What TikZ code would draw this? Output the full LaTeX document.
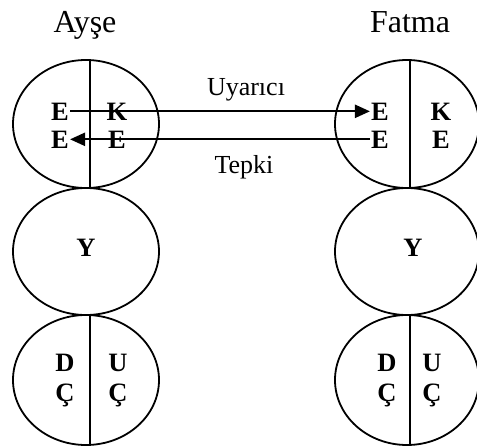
\documentclass[tikz,border=0pt]{standalone}
\usepackage{fontspec}
\setmainfont{Liberation Serif}
\usetikzlibrary{shapes.geometric,arrows.meta}
\begin{document}
\begin{tikzpicture}[x=1pt,y=-1pt,
  oval/.style={draw,ellipse,line width=1.8pt,inner sep=0pt},
  divider/.style={line width=1.8pt},
  person/.style={font=\fontsize{32}{34}\selectfont,anchor=base},
  msg/.style={font=\fontsize{26}{28}\selectfont,anchor=base},
  letr/.style={font=\bfseries\fontsize{26.5}{28}\selectfont,anchor=base,inner sep=1pt},
  link/.style={line width=2.3pt,-{Triangle[length=15pt,width=13pt]}}]
\useasboundingbox[fill=white] (0,0) rectangle (477,447);
% ellipses
\node[oval,minimum width=146pt,minimum height=128pt] (AT) at (86,124) {};
\node[oval,minimum width=146pt,minimum height=127pt] (AM) at (86,251.5) {};
\node[oval,minimum width=146pt,minimum height=130pt] (AB) at (86,380) {};
\node[oval,minimum width=144pt,minimum height=128pt] (FT) at (407,124) {};
\node[oval,minimum width=144pt,minimum height=127pt] (FM) at (407,251.5) {};
\node[oval,minimum width=144pt,minimum height=130pt] (FB) at (407,380) {};
% dividers
\draw[divider] ([xshift=4pt]AT.north) -- ([xshift=4pt]AT.south);
\draw[divider] ([xshift=4pt]AB.north) -- ([xshift=4pt]AB.south);
\draw[divider] ([xshift=3pt]FT.north) -- ([xshift=3pt]FT.south);
\draw[divider] ([xshift=3pt]FB.north) -- ([xshift=3pt]FB.south);
% names
\node[person] (ayse) at (85,32) {Ayşe};
\node[person] (fatma) at (410,32) {Fatma};
% letters
\node[letr] (aE1) at (60,120) {E};
\node[letr] (aK) at (117,120) {K};
\node[letr] (aE2) at (60,148) {E};
\node[letr] (aE3) at (117,148) {E};
\node[letr] (fE1) at (380,120) {E};
\node[letr] (fK) at (441,120) {K};
\node[letr] (fE2) at (380,148) {E};
\node[letr] (fE3) at (441,148) {E};
\node[letr] (aY) at (86,256) {Y};
\node[letr] (fY) at (413,256) {Y};
\node[letr] (aD) at (65,371) {D};
\node[letr] (aC1) at (65,401) {Ç};
\node[letr] (aU) at (118,371) {U};
\node[letr] (aC2) at (118,401) {Ç};
\node[letr] (fD) at (387,371) {D};
\node[letr] (fC1) at (387,401) {Ç};
\node[letr] (fU) at (432,371) {U};
\node[letr] (fC2) at (432,401) {Ç};
% arrows
\draw[link] (aE1.east) -- (fE1.west);
\draw[link] (fE2.west) -- (aE2.east);
\node[msg] (uy) at (246,95) {Uyarıcı};
\node[msg] (tp) at (244,173) {Tepki};
\end{tikzpicture}
\end{document}
